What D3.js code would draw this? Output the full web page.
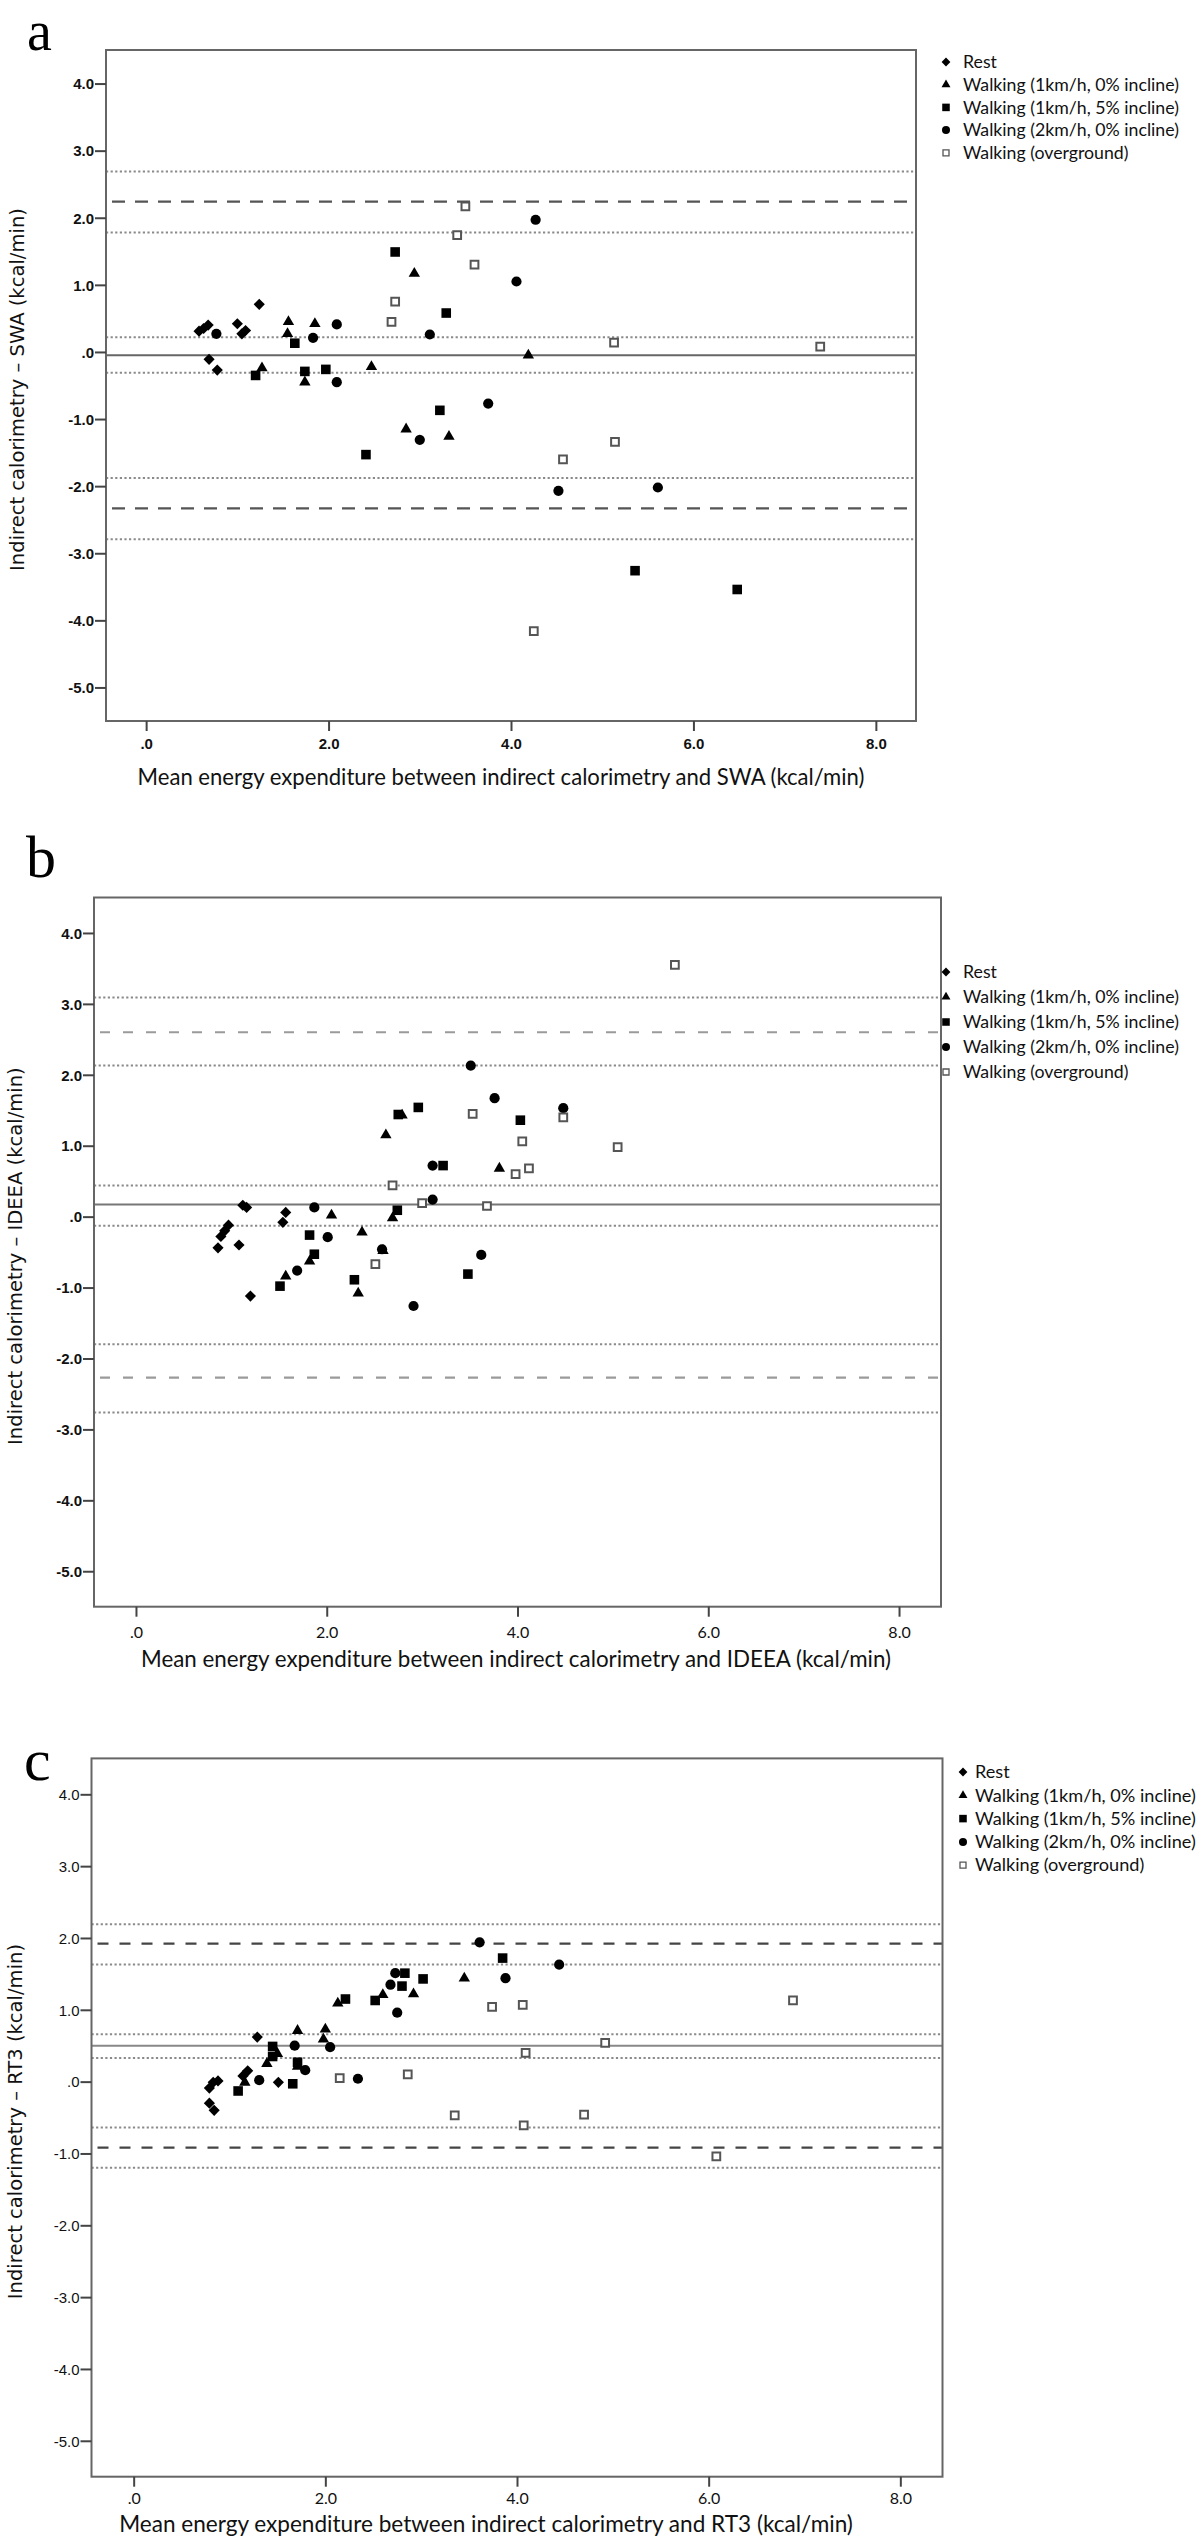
<!DOCTYPE html>
<html><head><meta charset="utf-8">
<script src="https://cdn.jsdelivr.net/npm/d3@7"></script>
<style>body{margin:0;background:#fff} svg{display:block}</style>
</head><body>
<svg id="chart" width="1200" height="2540"></svg>
<script>
// ---------- data ----------
const categories = ["Rest", "Walking (1km/h, 0% incline)", "Walking (1km/h, 5% incline)", "Walking (2km/h, 0% incline)", "Walking (overground)"];
const xTickValues = [0, 2, 4, 6, 8];
const xTickLabels = [".0", "2.0", "4.0", "6.0", "8.0"];
const yTickValues = [4, 3, 2, 1, 0, -1, -2, -3, -4, -5];
const yTickLabels = ["4.0", "3.0", "2.0", "1.0", ".0", "-1.0", "-2.0", "-3.0", "-4.0", "-5.0"];

// Panel a: SWA  [mean, difference]
const swaRest = [[0.58,0.31],[0.63,0.35],[0.68,0.40],[0.69,-0.11],[0.78,-0.27],[1.00,0.42],[1.05,0.27],[1.09,0.32],[1.24,0.71]];
const swaWalk1km0 = [[1.27,-0.24],[1.55,0.27],[1.56,0.45],[1.74,-0.45],[1.85,0.42],[2.47,-0.22],[2.94,1.17],[4.19,-0.05],[2.85,-1.15],[3.32,-1.26]];
const swaWalk1km5 = [[1.20,-0.35],[1.63,0.13],[1.74,-0.29],[1.97,-0.26],[2.73,1.49],[3.29,0.58],[3.22,-0.87],[2.41,-1.53],[5.36,-3.26],[6.48,-3.54]];
const swaWalk2km0 = [[0.77,0.27],[1.83,0.21],[2.09,0.41],[2.09,-0.45],[3.11,0.26],[4.06,1.05],[4.27,1.97],[3.75,-0.77],[3.00,-1.31],[4.52,-2.07],[5.61,-2.02]];
const swaOverground = [[2.69,0.45],[2.73,0.75],[3.41,1.74],[3.50,2.17],[3.60,1.30],[5.13,0.14],[7.39,0.08],[4.25,-4.16],[4.57,-1.60],[5.14,-1.34]];
const swaBias = [-0.05];
const swaLoA = [2.24, -2.33];
const swaCI = [2.69, 1.78, 0.22, -0.31, -1.88, -2.79];

// Panel b: IDEEA
const ideeaRest = [[0.86,-0.44],[0.89,-0.28],[0.93,-0.20],[0.97,-0.12],[1.08,-0.40],[1.12,0.16],[1.16,0.13],[1.20,-1.12],[1.54,-0.08],[1.57,0.06]];
const ideeaWalk1km0 = [[1.57,-0.84],[1.82,-0.63],[2.05,0.02],[2.37,-0.22],[2.33,-1.08],[2.59,-0.48],[2.62,1.15],[2.69,-0.02],[2.79,1.43],[3.81,0.68]];
const ideeaWalk1km5 = [[1.51,-0.98],[1.82,-0.26],[1.87,-0.53],[2.29,-0.89],[2.74,0.09],[2.75,1.44],[2.96,1.54],[3.22,0.72],[3.48,-0.81],[4.03,1.36]];
const ideeaWalk2km0 = [[1.69,-0.76],[1.87,0.13],[2.01,-0.29],[2.58,-0.46],[2.91,-1.26],[3.11,0.72],[3.11,0.24],[3.51,2.13],[3.62,-0.54],[3.76,1.67],[4.48,1.53]];
const ideeaOverground = [[2.51,-0.67],[2.69,0.44],[3.00,0.19],[3.53,1.45],[3.68,0.15],[4.05,1.06],[3.98,0.60],[4.12,0.68],[4.48,1.40],[5.05,0.98],[5.65,3.55]];
const ideeaBias = [0.17];
const ideeaLoA = [2.60, -2.27];
const ideeaCI = [3.09, 2.13, 0.44, -0.13, -1.80, -2.76];

// Panel c: RT3
const rt3Rest = [[0.79,-0.30],[0.84,-0.40],[0.79,-0.09],[0.83,-0.01],[0.88,0.01],[1.14,0.08],[1.19,0.15],[1.29,0.62],[1.51,-0.01]];
const rt3Walk1km0 = [[1.16,-0.01],[1.39,0.25],[1.50,0.39],[1.71,0.71],[1.71,0.21],[1.98,0.59],[2.00,0.73],[2.13,1.09],[2.60,1.21],[2.92,1.22],[3.45,1.44]];
const rt3Walk1km5 = [[1.09,-0.13],[1.45,0.49],[1.45,0.35],[1.66,-0.03],[1.71,0.27],[2.21,1.15],[2.52,1.13],[2.80,1.33],[2.83,1.51],[3.02,1.43],[3.85,1.72]];
const rt3Walk2km0 = [[1.31,0.02],[1.68,0.50],[1.79,0.16],[2.05,0.48],[2.34,0.04],[2.68,1.35],[2.73,1.51],[2.75,0.96],[3.61,1.94],[3.88,1.44],[4.44,1.63]];
const rt3Overground = [[2.15,0.05],[2.86,0.10],[3.35,-0.47],[3.74,1.04],[4.06,1.07],[4.09,0.40],[4.07,-0.61],[4.70,-0.46],[4.92,0.54],[6.08,-1.04],[6.88,1.13]];
const rt3Bias = [0.50];
const rt3LoA = [1.92, -0.92];
const rt3CI = [2.19, 1.63, 0.66, 0.33, -0.64, -1.20];

// ---------- layout ----------
const svg = d3.select("#chart");
svg.append("rect").attr("width", 1200).attr("height", 2540).attr("fill", "#fff");

const panels = [
  { label: "a", labelPos: [27, 50], labelSize: 56, box: { l: 106, t: 50, r: 916, b: 721 },
    series: [swaRest, swaWalk1km0, swaWalk1km5, swaWalk2km0, swaOverground],
    bias: swaBias, loa: swaLoA, ci: swaCI,
    xTitle: "Mean energy expenditure between indirect calorimetry and SWA (kcal/min)",
    yTitle: "Indirect calorimetry \u2013 SWA (kcal/min)",
    xTitleCx: 501, xTitleY: 785, xTitleW: 727, yTitleX: 17,
    legend: { x: 946, y: 62, step: 22.7, tx: 963, w: 216 },
    yTickFont: { f: "Liberation Sans, Arial, sans-serif", w: "bold", s: 15 },
    xTickFont: { f: "Liberation Sans, Arial, sans-serif", w: "bold", s: 15 }, xTickY: 749,
    dashColor: "#555", dashArray: "13,10", biasColor: "#666" },
  { label: "b", labelPos: [26, 877], labelSize: 60, box: { l: 94, t: 897.5, r: 941, b: 1606.7 },
    series: [ideeaRest, ideeaWalk1km0, ideeaWalk1km5, ideeaWalk2km0, ideeaOverground],
    bias: ideeaBias, loa: ideeaLoA, ci: ideeaCI,
    xTitle: "Mean energy expenditure between indirect calorimetry and IDEEA (kcal/min)",
    yTitle: "Indirect calorimetry \u2013 IDEEA (kcal/min)",
    xTitleCx: 516, xTitleY: 1667, xTitleW: 750, yTitleX: 15,
    legend: { x: 946, y: 972, step: 25, tx: 963, w: 216 },
    yTickFont: { f: "Liberation Sans, Arial, sans-serif", w: "bold", s: 15 },
    xTickFont: { f: "Lato, sans-serif", w: "normal", s: 16 }, xTickY: 1638,
    dashColor: "#9a9a9a", dashArray: "10,13", biasColor: "#777" },
  { label: "c", labelPos: [24, 1780], labelSize: 60, box: { l: 91.5, t: 1758.4, r: 942.5, b: 2476.7 },
    series: [rt3Rest, rt3Walk1km0, rt3Walk1km5, rt3Walk2km0, rt3Overground],
    bias: rt3Bias, loa: rt3LoA, ci: rt3CI,
    xTitle: "Mean energy expenditure between indirect calorimetry and RT3 (kcal/min)",
    yTitle: "Indirect calorimetry \u2013 RT3 (kcal/min)",
    xTitleCx: 486, xTitleY: 2532, xTitleW: 734, yTitleX: 15,
    legend: { x: 963, y: 1772, step: 23.3, tx: 975, w: 221 },
    yTickFont: { f: "Liberation Sans, Arial, sans-serif", w: "normal", s: 15 },
    xTickFont: { f: "Lato, sans-serif", w: "normal", s: 16 }, xTickY: 2504,
    dashColor: "#444", dashArray: "11,11", biasColor: "#888" }
];

const xDomain = [-0.44, 8.44];
const yDomain = [-5.5, 4.5];

function drawMarker(g, k, x, y, big) {
  const s = big ? 1 : 0.62;
  if (k === 0) {
    g.append("path").attr("d", d3.symbol(d3.symbolSquare, 62 * s)())
      .attr("transform", `translate(${x},${y}) rotate(45)`).attr("fill", "#000");
  } else if (k === 1) {
    g.append("path").attr("d", d3.symbol(d3.symbolTriangle, 56 * s)())
      .attr("transform", `translate(${x},${y})`).attr("fill", "#000");
  } else if (k === 2) {
    g.append("path").attr("d", d3.symbol(d3.symbolSquare, 92 * s)())
      .attr("transform", `translate(${x},${y})`).attr("fill", "#000");
  } else if (k === 3) {
    g.append("path").attr("d", d3.symbol(d3.symbolCircle, 82 * s)())
      .attr("transform", `translate(${x},${y})`).attr("fill", "#000");
  } else {
    g.append("path").attr("d", d3.symbol(d3.symbolSquare, (big ? 60 : 36))())
      .attr("transform", `translate(${x},${y})`).attr("fill", "#fff")
      .attr("stroke", "#555").attr("stroke-width", big ? 2 : 1.3);
  }
}

function fit(sel, target) {
  const w = sel.node().getComputedTextLength();
  const fs = parseFloat(sel.attr("font-size"));
  sel.attr("font-size", (fs * target / w).toFixed(2));
  return fs * target / w;
}

let yTitleSize = null;

panels.forEach((p) => {
  const g = svg.append("g");
  const x = d3.scaleLinear().domain(xDomain).range([p.box.l, p.box.r]);
  const y = d3.scaleLinear().domain(yDomain).range([p.box.b, p.box.t]);

  // panel letter
  g.append("text").attr("x", p.labelPos[0]).attr("y", p.labelPos[1])
    .attr("font-family", "Liberation Serif, Times New Roman, serif").attr("font-size", p.labelSize)
    .text(p.label);

  // reference lines
  const lineG = g.append("g");
  p.ci.forEach(v => lineG.append("line").attr("x1", p.box.l).attr("x2", p.box.r)
    .attr("y1", y(v)).attr("y2", y(v)).attr("stroke", "#8a8a8a").attr("stroke-width", 2)
    .attr("stroke-dasharray", "2.2,2.4"));
  p.loa.forEach(v => lineG.append("line").attr("x1", p.box.l).attr("x2", p.box.r)
    .attr("y1", y(v)).attr("y2", y(v)).attr("stroke", p.dashColor).attr("stroke-width", 2.2)
    .attr("stroke-dasharray", p.dashArray).attr("stroke-dashoffset", -6));
  p.bias.forEach(v => lineG.append("line").attr("x1", p.box.l).attr("x2", p.box.r)
    .attr("y1", y(v)).attr("y2", y(v)).attr("stroke", p.biasColor).attr("stroke-width", 2));

  // points
  const ptG = g.append("g");
  p.series.forEach((arr, k) => arr.forEach(d => drawMarker(ptG, k, x(d[0]), y(d[1]), true)));

  // frame
  g.append("rect").attr("x", p.box.l).attr("y", p.box.t)
    .attr("width", p.box.r - p.box.l).attr("height", p.box.b - p.box.t)
    .attr("fill", "none").attr("stroke", "#666").attr("stroke-width", 2);

  // axes
  const xAxis = d3.axisBottom(x).tickValues(xTickValues)
    .tickFormat((d, i) => xTickLabels[i]).tickSize(10).tickSizeOuter(0).tickPadding(0);
  const xg = g.append("g").attr("transform", `translate(0,${p.box.b})`).call(xAxis);
  xg.select(".domain").remove();
  xg.selectAll(".tick line").attr("stroke", "#444").attr("stroke-width", 2);
  xg.selectAll(".tick text").attr("y", p.xTickY - p.box.b).attr("dy", 0)
    .attr("font-family", p.xTickFont.f).attr("font-weight", p.xTickFont.w)
    .attr("font-size", p.xTickFont.s).attr("fill", "#111");

  const yAxis = d3.axisLeft(y).tickValues(yTickValues)
    .tickFormat((d, i) => yTickLabels[i]).tickSize(11).tickSizeOuter(0).tickPadding(1);
  const yg = g.append("g").attr("transform", `translate(${p.box.l},0)`).call(yAxis);
  yg.select(".domain").remove();
  yg.selectAll(".tick line").attr("stroke", "#444").attr("stroke-width", 2);
  yg.selectAll(".tick text").attr("font-family", p.yTickFont.f).attr("font-weight", p.yTickFont.w)
    .attr("font-size", p.yTickFont.s).attr("fill", "#111").attr("dy", "0.35em");

  // x title
  const xt = g.append("text").attr("x", p.xTitleCx).attr("y", p.xTitleY)
    .attr("text-anchor", "middle").attr("font-family", "Lato, sans-serif").attr("font-size", 20)
    .attr("fill", "#111").text(p.xTitle);
  fit(xt, p.xTitleW);

  // y title
  const cy = (p.box.t + p.box.b) / 2 + 4;
  const yt = g.append("text").attr("transform", `translate(${p.yTitleX},${cy}) rotate(-90)`)
    .attr("text-anchor", "middle").attr("dominant-baseline", "central")
    .attr("font-family", "DejaVu Sans, Verdana, sans-serif").attr("font-size", 17)
    .attr("fill", "#111").text(p.yTitle);
  if (yTitleSize === null) yTitleSize = fit(yt, 363);
  else yt.attr("font-size", yTitleSize.toFixed(2));

  // legend (text condensed horizontally to mimic the narrow original face)
  const lg = g.append("g");
  const legFs = 17;
  let sx = 1;
  categories.forEach((c, k) => {
    const ly = p.legend.y + k * p.legend.step;
    drawMarker(lg, k, p.legend.x, ly, false);
  });
  const texts = categories.map((c, k) => lg.append("text")
    .attr("x", 0).attr("y", 0)
    .attr("dominant-baseline", "central").attr("font-family", "Lato, sans-serif")
    .attr("font-size", legFs).attr("fill", "#111").text(c));
  sx = p.legend.w / texts[1].node().getComputedTextLength();
  texts.forEach((t, k) => t.attr("transform",
    `translate(${p.legend.tx},${p.legend.y + k * p.legend.step}) scale(${sx.toFixed(3)},1)`));
});
</script>
</body></html>
